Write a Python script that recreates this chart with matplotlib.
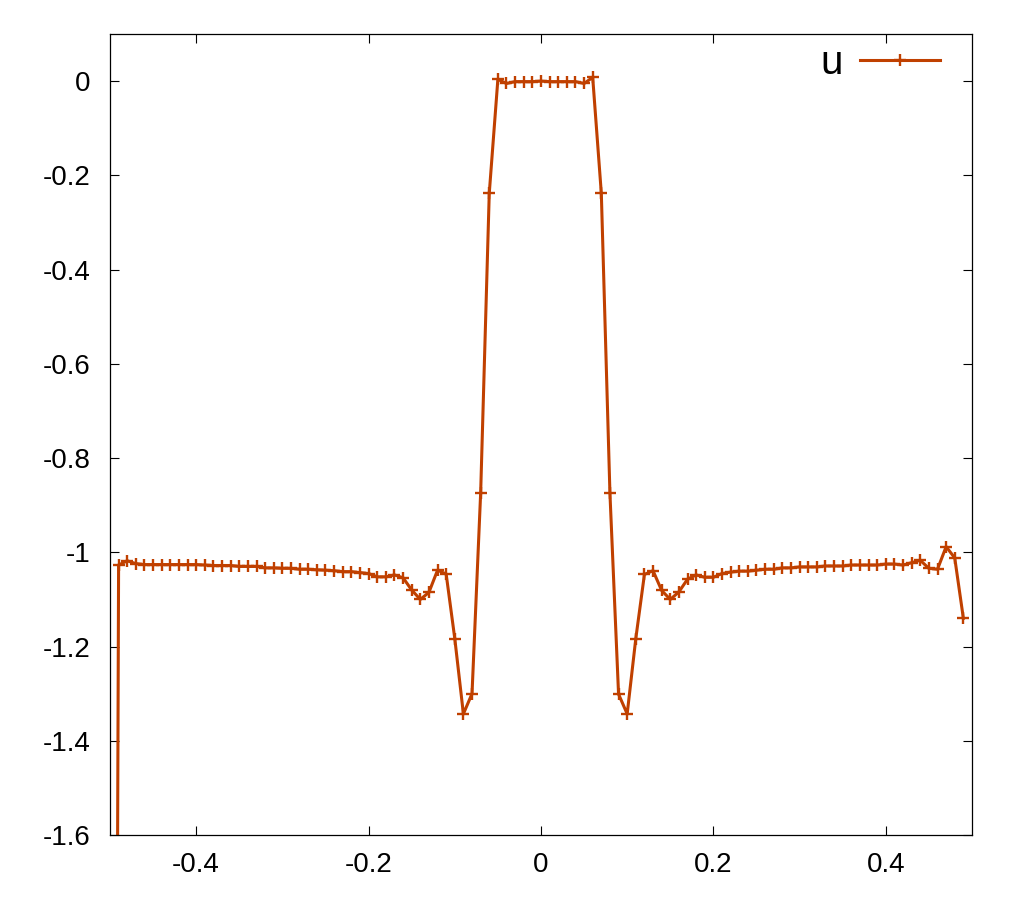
import numpy as np
import matplotlib
matplotlib.use('Agg')
import matplotlib.pyplot as plt

# sample positions (step 0.01) and the u values
x = np.round(np.arange(-0.50, 0.495, 0.01), 2)
u = [
    -6.0,                                                       # -0.50 (off scale)
    -1.027, -1.018, -1.024, -1.026, -1.026, -1.026, -1.026, -1.026, -1.026, -1.026,  # -0.49..-0.40
    -1.027, -1.028, -1.028, -1.028, -1.030, -1.030, -1.030, -1.033, -1.033, -1.034,  # -0.39..-0.30
    -1.034, -1.036, -1.036, -1.037, -1.038, -1.039, -1.041, -1.041, -1.043, -1.045,  # -0.29..-0.20
    -1.052, -1.052, -1.048, -1.054, -1.080, -1.100, -1.085, -1.038, -1.046, -1.183,  # -0.19..-0.10
    -1.343, -1.300, -0.875, -0.238, 0.004, -0.005, -0.001, -0.001, -0.001, 0.000,    # -0.09..0.00
    -0.001, -0.001, -0.001, -0.001, -0.005, 0.008, -0.238, -0.875, -1.301, -1.343,   # 0.01..0.10
    -1.183, -1.047, -1.039, -1.081, -1.100, -1.084, -1.057, -1.048, -1.053, -1.053,  # 0.11..0.20
    -1.045, -1.042, -1.040, -1.040, -1.038, -1.036, -1.036, -1.033, -1.033, -1.031,  # 0.21..0.30
    -1.031, -1.031, -1.029, -1.029, -1.029, -1.027, -1.027, -1.027, -1.027, -1.025,  # 0.31..0.40
    -1.025, -1.027, -1.022, -1.017, -1.034, -1.036, -0.988, -1.012, -1.140,          # 0.41..0.49
]

xticks = [-0.4, -0.2, 0, 0.2, 0.4]
xticklabels = ['-0.4', '-0.2', '0', '0.2', '0.4']
yticks = [-1.6, -1.4, -1.2, -1.0, -0.8, -0.6, -0.4, -0.2, 0]
yticklabels = ['-1.6', '-1.4', '-1.2', '-1', '-0.8', '-0.6', '-0.4', '-0.2', '0']

plt.rcParams['font.family'] = ['Liberation Sans', 'DejaVu Sans']

fig = plt.figure(figsize=(10.24, 9.0), dpi=100)
ax = fig.add_axes([0.1074, 0.0722, 0.9492 - 0.1074, 0.9622 - 0.0722])

ax.plot(x, u, color='#c04000', lw=2.2, marker='+', ms=8, mew=1.7, label='u')

ax.set_xlim(-0.5, 0.5)
ax.set_ylim(-1.6, 0.1)
ax.set_xticks(xticks)
ax.set_xticklabels(xticklabels)
ax.set_yticks(yticks)
ax.set_yticklabels(yticklabels)

ax.tick_params(direction='in', length=6.5, width=0.8, labelsize=20,
               top=True, right=True)
ax.tick_params(axis='x', pad=12)
ax.tick_params(axis='y', pad=14)
for s in ax.spines.values():
    s.set_linewidth(0.9)

ax.legend(loc='center right', frameon=False, markerfirst=False,
          handlelength=2.0, handletextpad=0.42, fontsize=29,
          borderpad=0.0, borderaxespad=0.0,
          bbox_to_anchor=(0.963, 0.964))

fig.savefig('out.png', dpi=100)
